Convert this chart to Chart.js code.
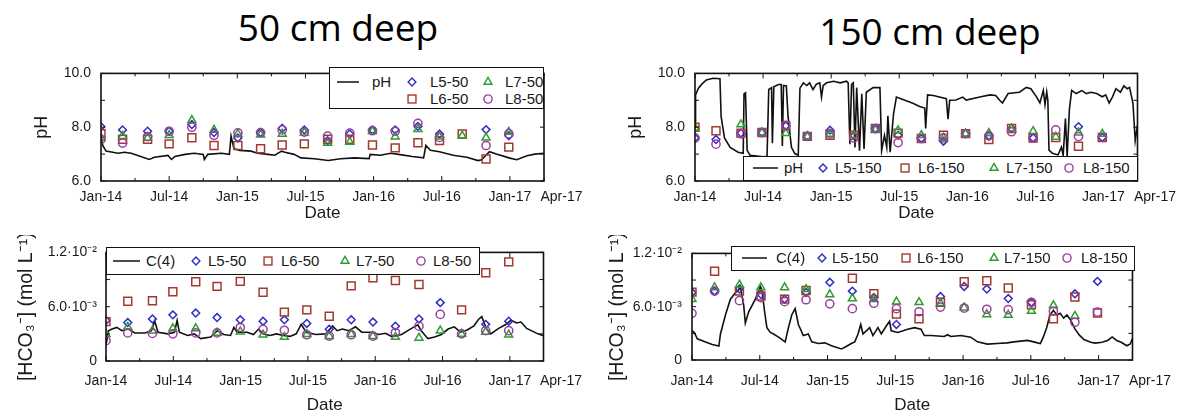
<!DOCTYPE html>
<html>
<head>
<meta charset="utf-8">
<script src="https://cdn.jsdelivr.net/npm/chart.js@4.4.1/dist/chart.umd.min.js"></script>
<style>
  body { margin: 0; width: 1184px; height: 416px; background: #fff; position: relative; overflow: hidden;
         font-family: "Liberation Sans", Arial, sans-serif; }
  canvas { position: absolute; }
  .title { position: absolute; width: 300px; text-align: center; font-family: "Open Sans", sans-serif;
           font-size: 37px; line-height: 37px; color: #000; }
  .legend { position: absolute; background: #fff; border: 1.5px solid #111; box-sizing: border-box; }
  .legend span { position: absolute; font-size: 15px; line-height: 18px; color: #1a1a1a; white-space: nowrap; }
  .legend svg { position: absolute; }
</style>
</head>
<body>
<div class="title" style="left:188px; top:8px">50 cm deep</div>
<div class="title" style="left:780px; top:12px">150 cm deep</div>
<canvas id="ph50" width="594" height="170" style="left:0; top:55px"></canvas>
<canvas id="ph150" width="590" height="170" style="left:594px; top:55px"></canvas>
<canvas id="hco50" width="594" height="181" style="left:0; top:235px"></canvas>
<canvas id="hco150" width="590" height="181" style="left:594px; top:235px"></canvas>
<script>
// x values are months counted from Jan-2014
const xTickMonths = [0, 6, 12, 18, 24, 30, 36, 39];
const xTickLabels = ['Jan-14', 'Jul-14', 'Jan-15', 'Jul-15', 'Jan-16', 'Jul-16', 'Jan-17', 'Apr-17'];
const phTicks = [6, 8, 10];
const phTickLabels = ['6.0', '8.0', '10.0'];
const hcoTicks = [0, 6, 12];              // in 10^-3 mol/L
const hcoTickLabels = ['0', '6.0·10⁻³', '1.2·10⁻²'];
const names50 = ['L5-50', 'L6-50', 'L7-50', 'L8-50'];
const names150 = ['L5-150', 'L6-150', 'L7-150', 'L8-150'];

// ---- pH, 50 cm
const ph50Line = [[0,7.67],[0.15,7.32],[0.44,7.11],[1.03,7.07],[1.5,7.03],[2.06,7.07],[2.65,7.03],[3.5,6.91],
  [4.25,6.8],[4.7,6.88],[5.9,6.95],[6.2,6.8],[6.5,6.91],[7.4,6.99],[8.2,7.03],[9.0,6.99],[9.1,6.8],[9.4,6.99],
  [10.6,7.03],[11.3,6.99],[11.45,7.67],[11.7,7.2],[12.2,7.14],[13.2,7.11],[13.8,7.03],[14.7,6.99],[15.3,6.96],
  [15.9,7.11],[16.2,7.07],[17.0,6.99],[17.6,6.86],[18.8,6.83],[20.0,6.76],[21.1,6.83],[22.3,6.86],[23.6,6.83],
  [23.7,6.99],[24.6,6.96],[25.5,7.03],[26.2,6.99],[27.4,6.91],[28.4,6.86],[28.6,7.32],[29.0,7.14],[29.8,7.09],
  [31.0,6.96],[32.2,6.88],[33.2,6.76],[33.5,6.79],[34.2,7.09],[34.8,7.0],[36.0,6.85],[36.6,6.79],[37.5,6.94],
  [38.2,7.0],[39.0,7.03]];
const ph50Months = [0, 1.9, 4.1, 6.0, 8.0, 9.95, 12.05, 14.05, 15.95, 17.9, 19.95, 21.9, 23.9, 25.9, 27.9, 29.8, 31.8, 33.9, 35.9];
const ph50L5 = [8.02, 7.9, 7.85, 7.85, 8.1, 7.8, 7.6, 7.8, 7.96, 7.9, 7.5, 7.75, 7.9, 7.9, 8.03, 7.75, null, 7.91, 7.68];
const ph50L6 = [7.76, 7.55, 7.55, 7.38, 7.61, 7.32, 7.32, 7.2, 7.34, 7.38, 7.55, 7.55, 7.34, 7.23, 7.42, 7.5, 7.75, 6.82, 7.26];
const ph50L7 = [7.6, 7.67, 7.6, 7.7, 8.26, 7.9, 7.75, 7.72, 7.75, 7.8, 7.41, 7.45, 7.85, 7.65, 7.93, 7.65, 7.68, 7.61, 7.82];
const ph50L8 = [7.55, 7.41, 7.65, 7.85, 8.0, 7.7, 7.79, 7.8, 7.9, 7.82, 7.67, 7.78, 7.87, 7.85, 8.14, 7.62, null, 7.32, 7.76];

// ---- pH, 150 cm
const ph150Line = [[0,8.0],[0.05,9.2],[0.3,9.45],[0.6,9.6],[1.0,9.76],[1.6,9.82],[2.2,9.8],[2.3,8.4],[2.6,7.6],
  [3.1,7.25],[3.8,7.07],[4.25,7.03],[4.32,9.24],[4.45,9.28],[4.6,7.13],[4.85,6.96],[6.0,6.9],[6.35,6.92],
  [6.5,9.4],[6.75,9.47],[6.82,7.4],[6.95,9.5],[7.35,9.59],[7.6,9.59],[7.7,7.3],[7.8,9.55],[8.05,9.53],[8.2,8.4],
  [8.5,7.25],[8.8,7.02],[9.1,6.96],[9.25,9.45],[9.55,9.65],[9.85,9.55],[10.1,9.65],[10.4,9.4],[10.7,9.6],
  [11.0,9.65],[11.15,9.12],[11.3,9.55],[11.6,9.65],[12.2,9.71],[12.8,9.65],[13.35,9.71],[13.5,9.65],[13.65,7.37],
  [13.8,9.59],[13.95,9.65],[14.1,7.25],[14.25,9.47],[14.5,7.13],[14.7,9.24],[14.9,7.19],[15.1,9.3],[15.7,9.47],
  [16.3,9.47],[16.45,7.13],[16.7,7.7],[16.9,7.25],[17.0,8.42],[17.2,7.07],[17.5,8.5],[17.75,9.12],[18.5,9.0],
  [19.2,8.89],[19.8,8.77],[20.25,8.71],[20.33,7.95],[20.5,9.2],[21.0,9.18],[22.15,9.06],[22.3,8.3],[22.45,9.0],
  [23.0,9.01],[23.6,9.12],[23.9,9.01],[25.1,9.12],[26.0,9.2],[26.5,9.18],[26.85,9.0],[27.1,8.9],[27.6,9.25],
  [28.6,9.3],[29.2,9.48],[29.6,9.43],[30.1,9.13],[30.4,8.9],[30.7,9.37],[30.85,8.84],[31.0,9.31],[31.1,9.0],
  [31.2,7.15],[31.5,7.03],[32.0,6.97],[32.3,7.26],[32.45,6.95],[32.65,8.32],[32.8,6.91],[33.0,8.67],[33.2,9.37],
  [33.6,9.25],[34.1,9.36],[34.5,9.25],[34.9,9.3],[35.4,9.25],[35.9,9.13],[36.2,9.2],[36.5,8.9],[36.8,9.13],
  [37.1,9.43],[37.5,9.3],[37.8,9.54],[38.1,9.43],[38.3,9.48],[38.6,8.9],[38.8,7.5],[39.0,8.08]];
const ph150Months = [0, 1.85, 4.05, 5.9, 8.0, 9.9, 11.9, 14.0, 15.9, 17.9, 19.95, 21.9, 23.85, 25.9, 27.9, 29.8, 31.8, 33.8, 35.9];
const ph150L5 = [7.6, 7.54, 7.78, 7.8, 8.05, 7.66, 7.89, 7.7, 7.95, 7.7, 7.58, 7.48, 7.76, 7.68, 7.95, 7.6, null, 8.02, 7.62];
const ph150L6 = [8.0, 7.87, 7.78, 7.8, 8.05, 7.66, 7.7, 7.7, 7.95, 7.78, 7.58, 7.7, 7.76, 7.54, 7.95, 7.6, 7.62, 7.29, 7.62];
const ph150L7 = [7.98, null, 8.1, 7.8, 7.78, 7.66, 7.75, 7.7, 7.9, 7.88, 7.7, 7.6, 7.76, 7.78, 7.95, 7.85, 7.64, 7.8, 7.75];
const ph150L8 = [7.6, 7.37, 7.75, 7.8, 8.07, 7.66, 7.75, 7.6, 7.95, 7.43, 7.58, 7.6, 7.76, 7.68, 7.83, 7.6, 7.9, 7.65, 7.62];

// ---- [HCO3-], 50 cm (10^-3 mol/L)
const hco50Line = [[0,1.76],[0.23,3.35],[0.53,3.53],[0.97,3.71],[1.41,3.35],[1.99,3.53],[2.58,3.1],[3.46,3.1],
  [4.05,3.35],[4.34,4.41],[4.64,3.18],[5.52,3.0],[6.1,3.18],[6.34,4.48],[6.54,3.18],[7.28,2.82],[7.86,3.0],
  [8.45,2.47],[9.33,2.65],[9.92,3.35],[10.5,2.93],[11.1,2.82],[11.4,3.71],[11.7,3.18],[12.56,3.18],[13.15,2.93],
  [13.6,3.53],[14.0,3.0],[14.6,2.82],[15.2,3.0],[15.8,2.82],[16.4,2.72],[16.96,3.0],[17.4,4.06],[17.84,3.18],
  [18.7,2.93],[19.6,3.0],[20.2,3.88],[20.6,3.35],[21.07,3.53],[21.65,3.35],[22.24,3.78],[22.8,3.18],[23.7,3.18],
  [24.3,2.93],[24.9,3.07],[25.5,2.7],[26.35,2.93],[26.9,3.35],[27.4,3.71],[27.8,4.0],[28.1,3.35],[28.7,2.47],
  [29.3,2.65],[29.9,2.93],[30.5,3.53],[31.05,3.78],[31.6,3.18],[32.2,3.42],[32.8,3.88],[33.2,4.59],[33.5,4.9],
  [33.9,3.6],[34.3,3.0],[35.0,3.6],[35.6,4.0],[36.1,4.5],[36.6,4.2],[37.0,4.3],[37.5,3.6],[38.0,3.3],[38.5,3.0],
  [39.0,2.8]];
const hco50Months = [0, 1.94, 4.14, 5.96, 8.0, 9.9, 11.97, 14.0, 15.9, 17.9, 19.9, 21.86, 23.8, 25.8, 27.9, 29.8, 31.7, 33.85, 35.9];
const hco50L5 = [4.5, 4.25, 4.65, 5.1, 5.3, 4.8, 4.55, 4.4, 4.55, 4.15, 3.5, 4.55, 4.3, 3.85, 4.65, 6.45, null, 4.05, 4.4];
const hco50L6 = [4.35, 6.6, 6.65, 7.65, 8.75, 8.25, 8.8, 7.6, 5.4, 5.65, 4.95, 8.3, 9.2, 8.9, 8.45, null, 5.65, 9.75, 10.95];
const hco50L7 = [3.0, 3.75, 3.35, 3.6, 3.6, 3.1, 3.25, 2.9, 2.65, 2.95, 2.75, 2.95, 2.75, 2.65, 2.55, 3.35, 3.0, 3.2, 2.9];
const hco50L8 = [2.25, 3.1, 3.05, 3.0, 3.1, 3.1, 3.7, 3.5, 3.4, 2.9, 2.75, 2.9, 2.75, 3.15, 3.85, 5.15, 3.0, 3.35, 3.35];

// ---- [HCO3-], 150 cm (10^-3 mol/L)
const hco150Line = [[0,3.3],[0.2,3.1],[0.47,2.39],[1.2,2.04],[1.79,1.75],[2.38,1.57],[2.52,2.93],[2.96,5.07],
  [3.4,6.85],[3.84,7.57],[4.14,7.92],[4.28,8.28],[4.58,6.14],[4.72,4.17],[5.02,5.43],[5.61,6.85],[6.05,8.28],
  [6.19,7.92],[6.43,5.43],[6.63,3.64],[6.93,3.1],[7.22,2.93],[7.66,2.57],[8.25,2.04],[8.54,3.64],[8.83,5.07],
  [9.13,5.78],[9.42,4.0],[9.86,2.75],[10.3,2.93],[10.6,2.04],[11.2,1.86],[11.77,1.93],[12.35,1.61],[13.23,1.25],
  [13.53,1.43],[14.11,1.86],[14.41,2.04],[14.7,2.93],[14.94,4.0],[15.14,2.93],[15.43,3.28],[15.73,3.64],
  [16.02,2.75],[16.46,3.64],[16.76,2.93],[17.2,3.82],[17.49,4.35],[17.64,3.28],[18.22,3.1],[19.1,3.46],
  [19.69,3.64],[20.28,3.46],[20.57,2.75],[21.16,2.75],[22.33,2.64],[22.62,2.85],[22.92,2.64],[23.8,2.75],
  [24.68,2.57],[25.27,2.04],[26.15,1.79],[27.0,1.86],[27.9,1.93],[28.5,2.04],[29.7,2.21],[30.25,2.04],
  [30.84,1.86],[31.1,2.57],[31.4,3.64],[31.7,5.07],[32.0,5.6],[32.3,5.07],[32.6,5.25],[32.9,4.71],[33.2,5.07],
  [33.5,4.53],[33.9,3.5],[34.3,2.8],[34.7,2.3],[35.3,2.0],[35.7,1.9],[36.3,2.0],[36.8,2.2],[37.2,2.6],[37.6,2.2],
  [38.0,2.0],[38.5,1.6],[38.8,1.8],[39.0,2.4]];
const hco150Months = [0, 2.0, 4.2, 6.1, 8.2, 10.1, 12.2, 14.2, 16.1, 18.1, 20.1, 22.0, 24.1, 26.1, 28.0, 30.05, 32.0, 33.9, 35.9];
const hco150L5 = [7.6, 7.75, 7.99, 7.4, 6.85, 7.6, 8.75, 7.75, 7.03, 4.0, null, 7.14, 8.28, 7.99, 6.92, 6.5, null, 7.45, 8.85];
const hco150L6 = [7.64, 10.0, 7.75, 7.21, 6.85, 7.82, null, 9.2, 7.46, 5.18, 4.64, 6.5, 8.82, 8.93, 8.1, 6.21, 4.64, 7.1, 5.3];
const hco150L7 = [6.85, 8.17, 8.46, 8.17, 8.17, 7.96, 7.39, 6.92, 6.85, 6.57, 6.5, 6.4, 5.9, 5.14, 5.07, 5.53, 6.14, 4.95, null];
const hco150L8 = [5.25, 7.75, 6.68, 7.03, 6.57, 6.78, 6.32, 5.78, 6.39, 5.78, 5.43, 5.96, 5.85, 5.71, 5.67, 6.5, 5.5, 4.25, 5.4];

const seriesColors = ['#2e2ec4', '#a3382f', '#2f9c2f', '#9b3ea2'];
const seriesShapes = ['rectRot', 'rect', 'triangle', 'circle'];
const seriesRadius = [3.9, 5.6, 4.6, 4.1];
const aprPad = '\u00a0'.repeat(9);   // pushes the last date label clear of Jan-17

// frame box + small inward ticks, like the original plotting tool
const frameTicks = {
  id: 'frameTicks',
  afterDatasetsDraw(chart, args, opts) {
    const {ctx, chartArea: a, scales: {x, y}} = chart;
    ctx.save();
    ctx.strokeStyle = '#111';
    ctx.lineWidth = 1;
    ctx.beginPath();
    for (let m = 0; m <= 39; m += 3) {
      const px = x.getPixelForValue(m), len = m % 6 === 0 ? 5 : 3;
      ctx.moveTo(px, a.bottom); ctx.lineTo(px, a.bottom - len);
      ctx.moveTo(px, a.top); ctx.lineTo(px, a.top + len);
    }
    for (let v = y.min; v <= y.max + 1e-9; v += opts.yMinor) {
      const py = y.getPixelForValue(v);
      ctx.moveTo(a.left, py); ctx.lineTo(a.left + 4, py);
      ctx.moveTo(a.right, py); ctx.lineTo(a.right - 4, py);
    }
    ctx.stroke();
    ctx.lineWidth = 1.6;
    ctx.strokeRect(a.left, a.top, a.right - a.left, a.bottom - a.top);
    ctx.restore();
  }
};

function lineSet(label, pairs) {
  return {
    label: label,
    data: pairs.map(p => ({x: p[0], y: p[1]})),
    showLine: true,
    borderColor: '#111',
    borderWidth: 1.6,
    pointRadius: 0,
    tension: 0,
    order: 10
  };
}

function markerSets(months, lists, names) {
  return lists.map((vals, i) => ({
    label: names[i],
    data: months.map((t, k) => ({x: t, y: vals[k]})).filter(p => p.y !== null),
    showLine: false,
    pointStyle: seriesShapes[i],
    pointRadius: seriesRadius[i],
    pointBorderColor: seriesColors[i],
    pointBackgroundColor: 'rgba(0,0,0,0)',
    pointBorderWidth: 1.5,
    borderColor: seriesColors[i],
    order: 4 - i
  }));
}

function makeChart(id, p) {
  return new Chart(document.getElementById(id), {
    type: 'scatter',
    data: {datasets: [lineSet(p.lineLabel, p.line), ...markerSets(p.months, p.series, p.names)]},
    options: {
      responsive: false,
      animation: false,
      events: [],
      layout: {padding: p.pad},
      plugins: {legend: {display: false}, tooltip: {enabled: false}, frameTicks: {yMinor: p.yMinor}},
      scales: {
        x: {
          type: 'linear', min: 0, max: 39,
          grid: {display: false, drawTicks: false}, border: {display: false},
          afterBuildTicks: s => { s.ticks = xTickMonths.map(v => ({value: v})); },
          afterFit: s => { s.height = p.xHeight; },
          ticks: {
            autoSkip: false, maxRotation: 0, padding: p.xTickPad, color: '#1a1a1a', font: {size: 14},
            callback: (v, i) => (i === xTickLabels.length - 1 ? aprPad : '') + xTickLabels[i]
          },
          title: {display: true, text: 'Date', color: '#1a1a1a', font: {size: 17}, padding: {top: 0, bottom: p.datePad}}
        },
        y: {
          type: 'linear', min: p.yTicks[0], max: p.yTicks[p.yTicks.length - 1],
          grid: {display: false, drawTicks: false}, border: {display: false},
          afterBuildTicks: s => { s.ticks = p.yTicks.map(v => ({value: v})); },
          afterFit: s => { s.width = p.yWidth; },
          ticks: {padding: p.yTickPad, color: '#1a1a1a', font: {size: 14}, callback: (v, i) => p.yLabels[i]},
          title: {display: true, text: p.yTitle, color: '#1a1a1a', font: {size: p.yTitleSize},
                  padding: {top: p.yTitlePad, bottom: 0}}
        }
      }
    },
    plugins: [frameTicks]
  });
}

function markerSvg(i, cx, cy) {
  const r = seriesRadius[i], c = 9;
  const st = 'fill="none" stroke="' + seriesColors[i] + '" stroke-width="1.4"';
  let shape;
  if (i === 0) shape = '<polygon points="' + [c, c - r, c + r, c, c, c + r, c - r, c].join(' ') + '" ' + st + '/>';
  else if (i === 1) { const h = r * Math.SQRT1_2; shape = '<rect x="' + (c - h) + '" y="' + (c - h) + '" width="' + 2 * h + '" height="' + 2 * h + '" ' + st + '/>'; }
  else if (i === 2) { const w = r * Math.sin(Math.PI / 3), d = r / 2; shape = '<polygon points="' + [c, c - r, c + w, c + d, c - w, c + d].join(' ') + '" ' + st + '/>'; }
  else shape = '<circle cx="' + c + '" cy="' + c + '" r="' + r + '" ' + st + '/>';
  return '<svg width="18" height="18" style="left:' + (cx - c) + 'px; top:' + (cy - c) + 'px">' + shape + '</svg>';
}

function makeLegend(def, lineLabel, names) {
  const box = document.createElement('div');
  box.className = 'legend';
  box.style.left = def.box[0] + 'px';
  box.style.top = def.box[1] + 'px';
  box.style.width = def.box[2] + 'px';
  box.style.height = def.box[3] + 'px';
  const ly = def.rows[0];
  let html = '<svg width="' + (def.line[0] + def.line[1] + 2) + '" height="4" style="left:0; top:' + (ly - 2) + 'px">' +
    '<line x1="' + def.line[0] + '" y1="2" x2="' + (def.line[0] + def.line[1]) + '" y2="2" stroke="#111" stroke-width="1.5"/></svg>' +
    '<span style="left:' + def.line[2] + 'px; top:' + (ly - 9) + 'px">' + lineLabel + '</span>';
  def.marks.forEach(m => {
    const y = def.rows[m.row];
    html += markerSvg(m.i, m.cx, y) + '<span style="left:' + m.tx + 'px; top:' + (y - 9) + 'px">' + names[m.i] + '</span>';
  });
  box.innerHTML = html;
  document.body.appendChild(box);
}

makeChart('ph50', {
  line: ph50Line, lineLabel: 'pH', months: ph50Months, series: [ph50L5, ph50L6, ph50L7, ph50L8], names: names50,
  yTicks: phTicks, yLabels: phTickLabels, yMinor: 1, yTitle: 'pH', yTitleSize: 18, yTitlePad: 31,
  pad: {top: 12, right: 50, left: 0, bottom: 0}, yWidth: 101, xHeight: 44, xTickPad: 8, datePad: 1, yTickPad: 10
});
makeChart('ph150', {
  line: ph150Line, lineLabel: 'pH', months: ph150Months, series: [ph150L5, ph150L6, ph150L7, ph150L8], names: names150,
  yTicks: phTicks, yLabels: phTickLabels, yMinor: 1, yTitle: 'pH', yTitleSize: 18, yTitlePad: 31,
  pad: {top: 12, right: 46, left: 0, bottom: 0}, yWidth: 101, xHeight: 44, xTickPad: 8, datePad: 1, yTickPad: 10
});
makeChart('hco50', {
  line: hco50Line, lineLabel: 'C(4)', months: hco50Months, series: [hco50L5, hco50L6, hco50L7, hco50L8], names: names50,
  yTicks: hcoTicks, yLabels: hcoTickLabels, yMinor: 3, yTitle: '[HCO₃⁻] (mol L⁻¹)', yTitleSize: 19.5, yTitlePad: 15,
  pad: {top: 12, right: 45, left: 0, bottom: 0}, yWidth: 106, xHeight: 55, xTickPad: 12, datePad: 0, yTickPad: 9
});
makeChart('hco150', {
  line: hco150Line, lineLabel: 'C(4)', months: hco150Months, series: [hco150L5, hco150L6, hco150L7, hco150L8], names: names150,
  yTicks: hcoTicks, yLabels: hcoTickLabels, yMinor: 3, yTitle: '[HCO₃⁻] (mol L⁻¹)', yTitleSize: 19.5, yTitlePad: 12,
  pad: {top: 11, right: 49, left: 0, bottom: 0}, yWidth: 98, xHeight: 56, xTickPad: 13, datePad: 0, yTickPad: 10
});

// legends: [left, top, width, height], row centres, line [x, length, text x], markers
makeLegend({box: [329, 67, 215, 42], rows: [14, 31], line: [7, 22, 42],
  marks: [{i: 0, cx: 82, tx: 100, row: 0}, {i: 2, cx: 158, tx: 175, row: 0},
          {i: 1, cx: 82, tx: 100, row: 1}, {i: 3, cx: 158, tx: 175, row: 1}]}, 'pH', names50);
makeLegend({box: [743, 156, 395, 25], rows: [11], line: [9, 25, 40],
  marks: [{i: 0, cx: 79, tx: 91, row: 0}, {i: 1, cx: 161, tx: 174, row: 0},
          {i: 2, cx: 250, tx: 262, row: 0}, {i: 3, cx: 325, tx: 339, row: 0}]}, 'pH', names150);
makeLegend({box: [106, 247, 374, 28], rows: [13], line: [6, 27, 39],
  marks: [{i: 0, cx: 89, tx: 101, row: 0}, {i: 1, cx: 161, tx: 174, row: 0},
          {i: 2, cx: 238, tx: 249, row: 0}, {i: 3, cx: 314, tx: 326, row: 0}]}, 'C(4)', names50);
makeLegend({box: [731, 246, 404, 25], rows: [11], line: [10, 25, 44],
  marks: [{i: 0, cx: 90, tx: 100, row: 0}, {i: 1, cx: 174, tx: 185, row: 0},
          {i: 2, cx: 262, tx: 272, row: 0}, {i: 3, cx: 335, tx: 349, row: 0}]}, 'C(4)', names150);
</script>
</body>
</html>
